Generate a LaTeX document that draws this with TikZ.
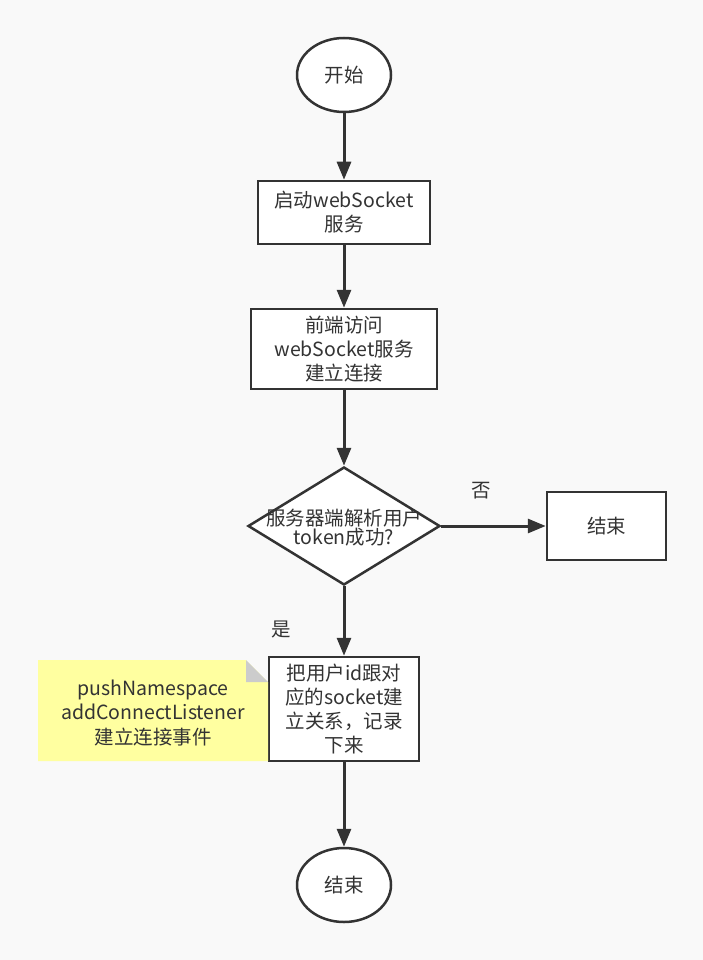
\documentclass[tikz,border=0pt]{standalone}
\usepackage{fontspec}
\setmainfont{Noto Sans CJK SC}
\usetikzlibrary{shapes.geometric,arrows.meta}
\definecolor{bg}{HTML}{F9F9F9}
\definecolor{ink}{HTML}{333333}
\definecolor{notey}{HTML}{FFFFA0}
\definecolor{fold}{HTML}{CCCCCC}
\tikzset{
  every node/.style={font=\fontsize{19.5}{24}\selectfont, text=ink},
  proc/.style={draw=ink, line width=2.5pt, fill=white, rectangle, align=center, inner sep=0pt},
  term/.style={draw=ink, line width=2.5pt, fill=white, ellipse, minimum width=94pt, minimum height=74pt, inner sep=0pt},
  dec/.style={draw=ink, line width=2.5pt, fill=white, diamond, minimum width=192pt, minimum height=118pt, aspect=1.63, inner sep=0pt, align=center},
  flow/.style={draw=ink, line width=3pt, -{Triangle[length=18pt,width=14pt]}},
  lbl/.style={text=ink}
}
\begin{document}
\begin{tikzpicture}[x=1pt,y=-1pt]
\fill[bg] (0,0) rectangle (703,960);
\useasboundingbox (0,0) rectangle (703,960);
\node[term] (start) at (344,75) {开始};
\node[proc, minimum width=172pt, minimum height=63pt] (b1) at (344,212.5) {启动webSocket\\服务};
\node[proc, minimum width=186pt, minimum height=80pt] (b2) at (344,349) {前端访问\\webSocket服务\\建立连接};
\node[dec] (d) at (344,526) {};
\node[lbl] at (344,530) {\begin{tabular}{@{}c@{}}服务器端解析用户\\[-5pt]token成功?\end{tabular}};
\node[proc, minimum width=119pt, minimum height=68pt] (e1) at (606.5,526) {结束};
\node[proc, minimum width=150pt, minimum height=104pt] (b3) at (344,709) {把用户id跟对\\应的socket建\\立关系，记录\\下来};
\node[term] (stop) at (344,885) {结束};
% note
\fill[notey] (38,660) -- (246,660) -- (268,682) -- (268,761) -- (38,761) -- cycle;
\fill[fold] (246,660) -- (268,682) -- (246,682) -- cycle;
\node[align=center, font=\fontsize{19.5}{24.5}\selectfont] (note) at (153,713) {pushNamespace\\addConnectListener\\建立连接事件};
\node (no) at (481,491) {否};
\node (yes) at (281,629) {是};
\draw[flow] (start) -- (b1);
\draw[flow] (b1) -- (b2);
\draw[flow] (b2) -- (d);
\draw[flow] (d) -- (e1);
\draw[flow] (d) -- (b3);
\draw[flow] (b3) -- (stop);
\end{tikzpicture}
\end{document}
